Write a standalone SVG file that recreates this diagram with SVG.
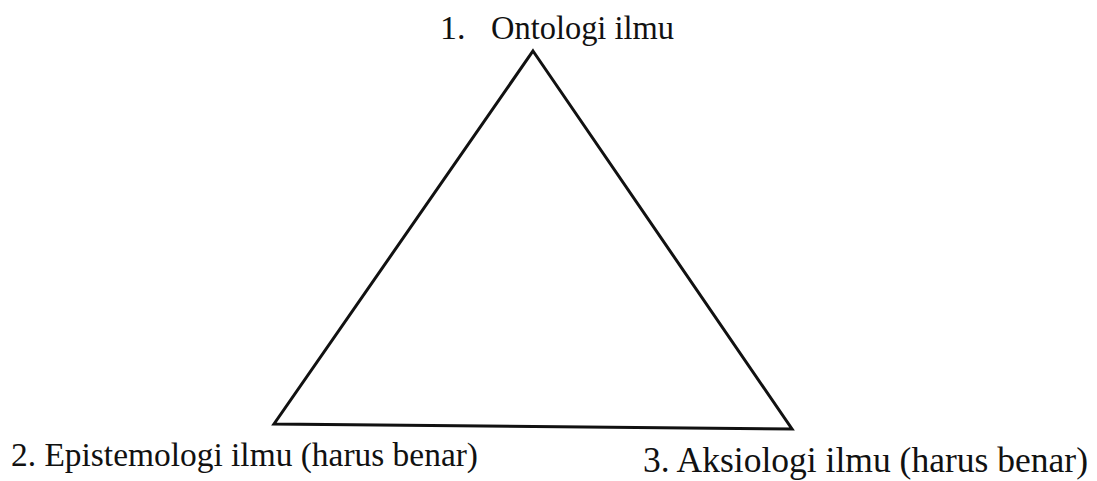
<svg xmlns="http://www.w3.org/2000/svg" width="1097" height="481" viewBox="0 0 1097 481">
  <style>
    .label { font-family: "Liberation Serif", "Times New Roman", serif; font-size: 34px; fill: #111; }
    .edge { fill: none; stroke: #111; stroke-width: 3; stroke-linejoin: miter; }
  </style>
  <rect width="1097" height="481" fill="#ffffff"/>
  <g id="connectors">
    <path class="edge" d="M533 51 L792 429 L274 424 Z"/>
  </g>
  <g id="node-ontologi">
    <text class="label" x="440" y="39">1.</text>
    <text class="label" x="491" y="39" textLength="183" lengthAdjust="spacingAndGlyphs">Ontologi ilmu</text>
  </g>
  <g id="node-epistemologi">
    <text class="label" x="11" y="466" textLength="467" lengthAdjust="spacingAndGlyphs">2. Epistemologi ilmu (harus benar)</text>
  </g>
  <g id="node-aksiologi">
    <text class="label" x="643" y="472" style="font-size:35px" textLength="445" lengthAdjust="spacingAndGlyphs">3. Aksiologi ilmu (harus benar)</text>
  </g>
</svg>
